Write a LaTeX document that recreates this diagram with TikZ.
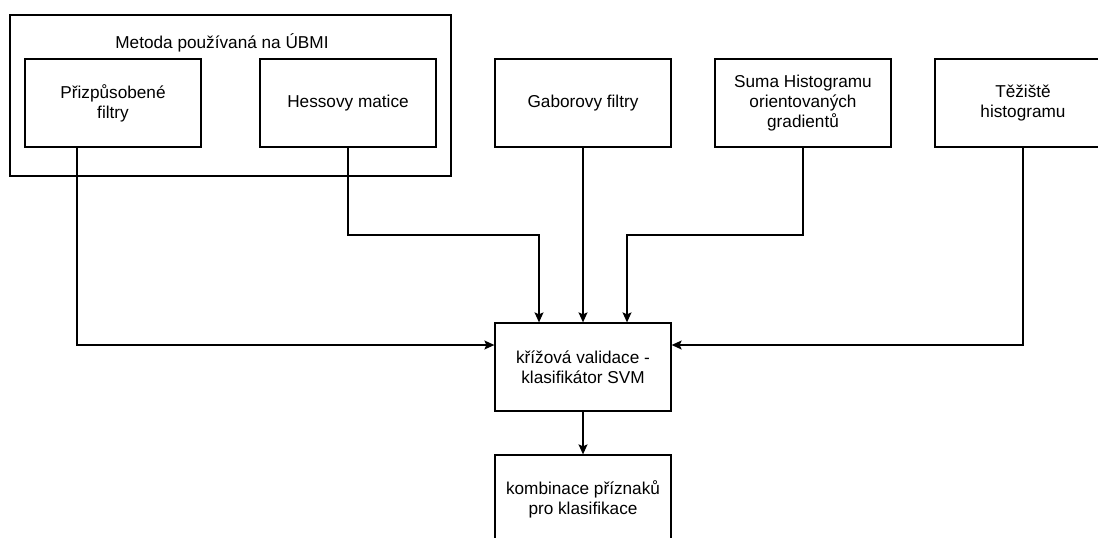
\documentclass[tikz,border=0pt]{standalone}
\usepackage{fontspec}
\setmainfont{Liberation Sans}
\usetikzlibrary{arrows.meta,positioning}
\tikzset{
  group/.style={draw, line width=1.3pt, minimum width=441pt, minimum height=161pt, inner sep=0pt},
  box/.style={draw, line width=1.3pt, minimum width=176pt, minimum height=88pt,
    align=center, inner sep=2pt, font=\fontsize{17.2}{20}\selectfont},
  grouplab/.style={font=\fontsize{17.2}{20}\selectfont},
  conn/.style={draw, line width=1.2pt, -{Stealth[length=10pt,width=9pt,inset=2pt]}}
}
\begin{document}
\begin{tikzpicture}[x=1pt, y=-1pt, line join=miter]
  \useasboundingbox (0,0) rectangle (1098,538);
  \clip (0,0) rectangle (1098,538);
  % group of methods used at UBMI
  \node[group] (ubmi) at (230.5,95.5) {};
  \node[grouplab] (ubmilab) at (222,43) {Metoda používaná na ÚBMI};
  \node[box] (prizp) at (113,103) {Přizpůsobené\\filtry};
  \node[box] (hess) at (348,103) {Hessovy matice};
  % other feature extractors
  \node[box] (gabor) at (583,103) {Gaborovy filtry};
  \node[box] (hog) at (803,103) {Suma Histogramu\\orientovaných\\gradientů};
  \node[box] (tez) at (1023,103) {Těžiště\\histogramu};
  % classification
  \node[box] (svm) at (583,367) {křížová validace -\\klasifikátor SVM};
  \node[box] (komb) at (583,499) {kombinace příznaků\\pro klasifikace};

  \coordinate (prizpS) at ([xshift=-36pt]prizp.south);
  \coordinate (svmA) at ([xshift=-44pt]svm.north);
  \coordinate (svmC) at ([xshift=44pt]svm.north);
  \coordinate (svmL) at ([yshift=22pt]svm.west);
  \coordinate (svmR) at ([yshift=22pt]svm.east);

  \draw[conn] (prizpS) |- (svmL);
  \draw[conn] (hess.south) |- (svmA |- 0,235) -- (svmA);
  \draw[conn] (gabor.south) -- (svm.north);
  \draw[conn] (hog.south) |- (svmC |- 0,235) -- (svmC);
  \draw[conn] (tez.south) |- (svmR);
  \draw[conn] (svm.south) -- (komb.north);
\end{tikzpicture}
\end{document}
